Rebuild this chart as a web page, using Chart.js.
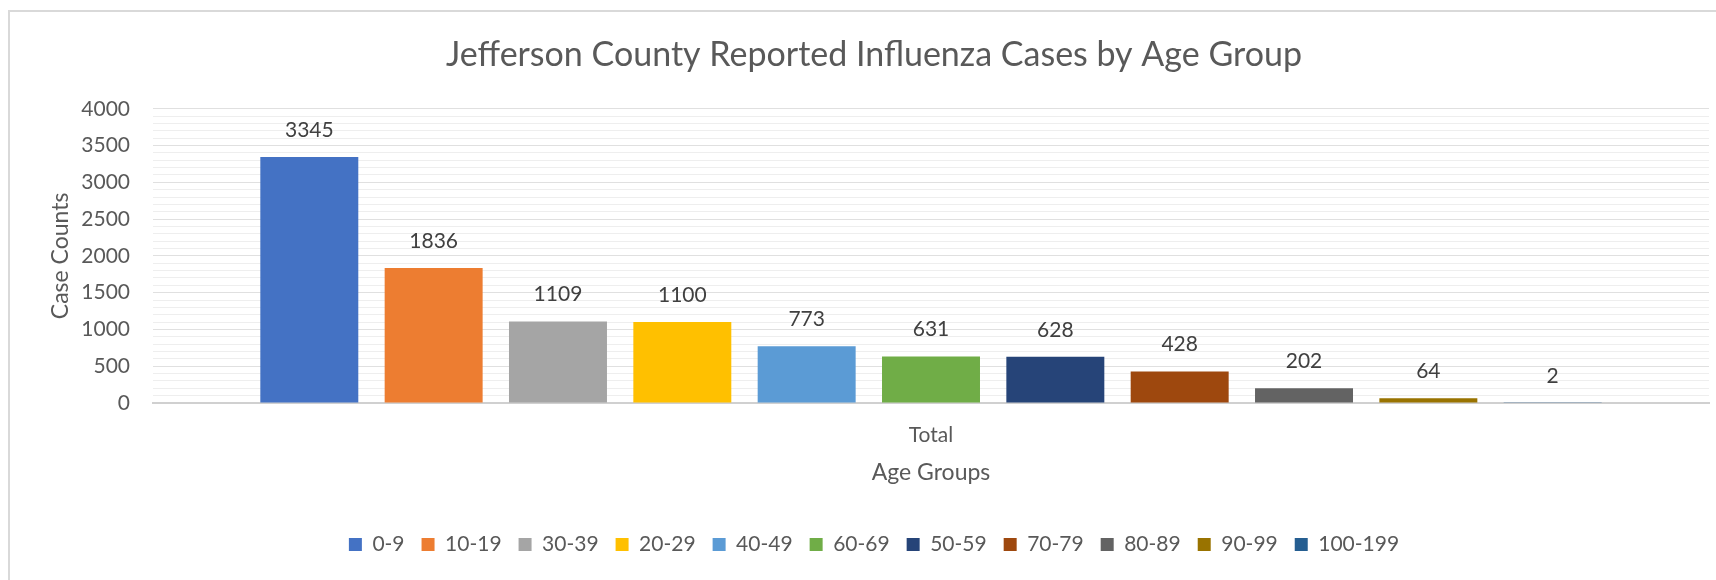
<!DOCTYPE html>
<html>
<head>
<meta charset="utf-8">
<title>Jefferson County Influenza Cases</title>
<script src="https://cdn.jsdelivr.net/npm/chart.js@4.4.1/dist/chart.umd.min.js"></script>
<style>
  html, body { margin: 0; padding: 0; background: #fff; }
  #wrap { width: 1716px; height: 580px; }
</style>
</head>
<body>
<div id="wrap"><canvas id="chart" width="1716" height="580"></canvas></div>
<script>
// chart data
const categories = ['Total'];
const ageGroups = ['0-9', '10-19', '30-39', '20-29', '40-49', '60-69', '50-59', '70-79', '80-89', '90-99', '100-199'];
const caseCounts = [3345, 1836, 1109, 1100, 773, 631, 628, 428, 202, 64, 2];
const yTickLabels = [0, 500, 1000, 1500, 2000, 2500, 3000, 3500, 4000];

// office palette
const barColors = ['#4472C4', '#ED7D31', '#A5A5A5', '#FFC000', '#5B9BD5', '#70AD47',
                   '#264478', '#9E480E', '#636363', '#997300', '#255E91'];

const FONT = 'Lato, Carlito, Calibri, "Open Sans", sans-serif';
const TEXT = '#595959';

// value labels above each bar
const valueLabels = {
    id: 'valueLabels',
    afterDatasetsDraw(chart) {
        const ctx = chart.ctx;
        ctx.save();
        ctx.font = '21px ' + FONT;
        ctx.fillStyle = '#404040';
        ctx.textAlign = 'center';
        ctx.textBaseline = 'middle';
        chart.data.datasets.forEach((ds, i) => {
            const meta = chart.getDatasetMeta(i);
            meta.data.forEach((bar, j) => {
                ctx.fillText(String(ds.data[j]), bar.x, bar.y - 27);
            });
        });
        ctx.restore();
    }
};

// thin frame around the chart object (cut off at right and bottom)
const frame = {
    id: 'frame',
    beforeDraw(chart) {
        const ctx = chart.ctx;
        ctx.save();
        ctx.strokeStyle = '#d9d9d9';
        ctx.lineWidth = 2;
        ctx.beginPath();
        ctx.moveTo(9, chart.height);
        ctx.lineTo(9, 11);
        ctx.lineTo(chart.width, 11);
        ctx.stroke();
        ctx.restore();
    }
};

const datasets = ageGroups.map((g, i) => ({
    label: g,
    data: [caseCounts[i]],
    backgroundColor: barColors[i],
    borderWidth: 0,
    barPercentage: 0.788,
    categoryPercentage: 0.879
}));

new Chart(document.getElementById('chart'), {
    type: 'bar',
    data: { labels: categories, datasets },
    plugins: [frame, valueLabels],
    options: {
        responsive: false,
        animation: false,
        layout: { padding: { left: 39, right: 7, top: 12, bottom: 15 } },
        plugins: {
            title: {
                display: true,
                text: 'Jefferson County Reported Influenza Cases by Age Group',
                color: TEXT,
                font: { family: FONT, size: 34, weight: 'normal' },
                padding: { top: 23, bottom: 33 }
            },
            legend: {
                position: 'bottom',
                labels: {
                    color: TEXT,
                    font: { family: FONT, size: 21 },
                    boxWidth: 13,
                    boxHeight: 13,
                    padding: 17
                }
            },
            tooltip: { enabled: false }
        },
        scales: {
            x: {
                grid: { display: false, drawTicks: false },
                border: { display: true, color: '#d0d0d0', width: 2 },
                ticks: { color: TEXT, font: { family: FONT, size: 21 }, padding: 20 },
                title: {
                    display: true,
                    text: 'Age Groups',
                    color: TEXT,
                    font: { family: FONT, size: 23 },
                    padding: { top: 0, bottom: 31 }
                },
                afterFit(scale) { scale.height = 114; }
            },
            y: {
                min: 0,
                max: 4000,
                border: { display: false },
                grid: {
                    drawTicks: false,
                    color: ctx => (ctx.tick && yTickLabels.includes(ctx.tick.value)) ? '#e0e0e0' : '#eeeeee',
                    lineWidth: 1
                },
                ticks: {
                    stepSize: 100,
                    autoSkip: false,
                    padding: 23,
                    color: TEXT,
                    font: { family: FONT, size: 21 },
                    callback: v => yTickLabels.includes(v) ? v : ''
                },
                title: {
                    display: true,
                    text: 'Case Counts',
                    color: TEXT,
                    font: { family: FONT, size: 23 },
                    padding: { top: 8, bottom: 0 }
                },
                afterFit(scale) { scale.width = 114; }
            }
        }
    }
});
</script>
</body>
</html>
